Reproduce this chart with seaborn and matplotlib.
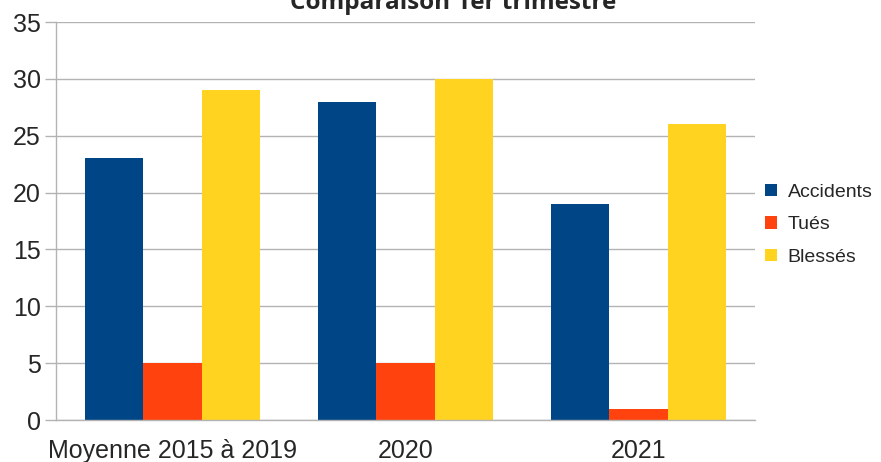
import pandas as pd
import matplotlib
matplotlib.use("Agg")
import matplotlib.pyplot as plt
import seaborn as sns

categories = ["Moyenne 2015 à 2019", "2020", "2021"]
accidents = [23, 28, 19]
tues = [5, 5, 1]
blesses = [29, 30, 26]
series_names = ["Accidents", "Tués", "Blessés"]
colors = ["#004586", "#ff420e", "#ffd320"]

rows = []
for name, vals in zip(series_names, [accidents, tues, blesses]):
    for cat, v in zip(categories, vals):
        rows.append({"Catégorie": cat, "Série": name, "Valeur": v})
df = pd.DataFrame(rows)

sns.set_style("white")
plt.rcParams["font.family"] = ["Liberation Sans", "DejaVu Sans"]

fig = plt.figure(figsize=(8.81, 4.62), dpi=100)
ax = fig.add_axes([56 / 881, 1 - 420 / 462, (755 - 56) / 881, (420 - 22) / 462])

sns.barplot(data=df, x="Catégorie", y="Valeur", hue="Série", palette=colors,
            saturation=1, width=0.75, ax=ax, edgecolor="none", linewidth=0)

ax.set_xlim(-0.5, 2.5)
ax.set_ylim(0, 35)
ax.set_yticks(range(0, 36, 5))
ax.set_xlabel("")
ax.set_ylabel("")
ax.grid(axis="y", color="#b3b3b3", linewidth=1)
ax.set_axisbelow(True)
for s in ["top", "right"]:
    ax.spines[s].set_visible(False)
for s in ["left", "bottom"]:
    ax.spines[s].set_color("#b3b3b3")
    ax.spines[s].set_linewidth(1)

ax.set_xticks([-0.5, 0.5, 1.5, 2.5], minor=True)
ax.tick_params(axis="x", which="minor", length=8, color="#b3b3b3", width=1)
ax.tick_params(axis="x", which="major", length=0, pad=14, labelsize=18)
ax.tick_params(axis="y", length=8, color="#b3b3b3", width=1, pad=3, labelsize=18, left=True)

ax.legend(loc="center left", bbox_to_anchor=(0.995, 0.49), frameon=False,
          fontsize=14, handlelength=0.6, handleheight=0.6, handletextpad=0.55,
          labelspacing=0.8, borderaxespad=0.3)

fig.text(0.514, 1 - 9 / 462, "Comparaison 1er trimestre", ha="center",
         va="baseline", fontsize=17.5, fontweight="bold", family="Open Sans")

fig.savefig("out.png", dpi=100)
